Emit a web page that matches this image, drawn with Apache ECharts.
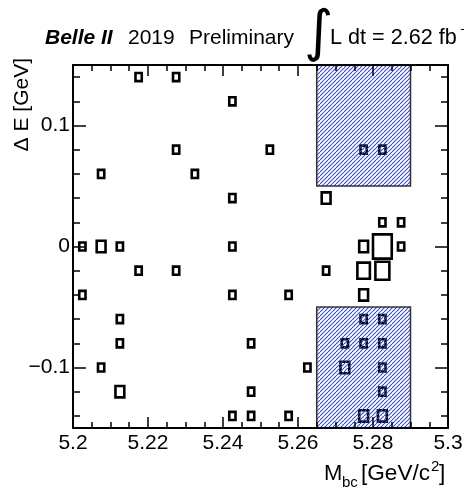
<!DOCTYPE html>
<html>
<head>
<meta charset="utf-8">
<script src="https://cdn.jsdelivr.net/npm/echarts@6/dist/echarts.min.js"></script>
<style>
html,body{margin:0;padding:0;background:#fff;}
#chart{width:464px;height:489px;}
</style>
</head>
<body>
<div id="chart"></div>
<script>
// ---- data ----
const mbcRange = [5.2, 5.3];
const deRange = [-0.15, 0.15];
const mbcBinWidth = 0.005;
const deBinWidth = 0.02;
// events per cell: [Mbc bin centre, ΔE bin centre, count]
const cellMbc = [5.2175,5.2275, 5.2425, 5.2275,5.2525,5.2775,5.2825, 5.2075,5.2325, 5.2425,5.2675, 5.2825,5.2875,
  5.2025,5.2075,5.2125,5.2425,5.2775,5.2825,5.2875, 5.2175,5.2275,5.2675,5.2775,5.2825,
  5.2025,5.2425,5.2575,5.2775, 5.2125,5.2775,5.2825, 5.2125,5.2475,5.2725,5.2775,5.2825,
  5.2075,5.2625,5.2725,5.2825, 5.2125,5.2475,5.2825, 5.2425,5.2475,5.2575,5.2775,5.2825];
const cellDE = [0.14,0.14, 0.12, 0.08,0.08,0.08,0.08, 0.06,0.06, 0.04,0.04, 0.02,0.02,
  0,0,0,0,0,0,0, -0.02,-0.02,-0.02,-0.02,-0.02,
  -0.04,-0.04,-0.04,-0.04, -0.06,-0.06,-0.06, -0.08,-0.08,-0.08,-0.08,-0.08,
  -0.10,-0.10,-0.10,-0.10, -0.12,-0.12,-0.12, -0.14,-0.14,-0.14,-0.14,-0.14];
const cellCount = [1,1, 1, 1,1,1,1, 1,1, 1,2, 1,1,
  1,2,1,1,2,9,1, 1,1,1,4,5,
  1,1,1,2, 1,1,1, 1,1,1,1,1,
  1,1,2,1, 2,1,1, 1,1,1,2,2];
// hatched regions
const hatchMbc = [5.265, 5.29];
const hatchDE = [[0.05, 0.15], [-0.15, -0.05]];
// ticks
const xMajorTicks = [5.2, 5.22, 5.24, 5.26, 5.28, 5.3];
const xMinorTicks = [5.205,5.21,5.215,5.225,5.23,5.235,5.245,5.25,5.255,5.265,5.27,5.275,5.285,5.29,5.295];
const yMajorTicks = [-0.1, 0, 0.1];
const yMinorTicks = [-0.14,-0.12,-0.08,-0.06,-0.04,-0.02,0.02,0.04,0.06,0.08,0.12,0.14];

const FONT = 'Liberation Sans';
const chart = echarts.init(document.getElementById('chart'), null, {renderer: 'canvas'});

const maxCount = Math.max.apply(null, cellCount);
const cells = cellMbc.map((x, i) => [x, cellDE[i], cellCount[i]]);
const hatchData = hatchDE.map(r => [hatchMbc[0], hatchMbc[1], r[0], r[1]]);

// hatch pattern
const pc = document.createElement('canvas');
pc.width = 8; pc.height = 8;
const g = pc.getContext('2d');
g.strokeStyle = '#2a48f2';
g.lineWidth = 1.05;
for (let c = -8; c <= 24; c += 4) {
  g.beginPath(); g.moveTo(c, 0); g.lineTo(c - 8, 8); g.stroke();
}

function fmtX(v){ return String(Math.round(v*100)/100); }
function fmtY(v){ const r = Math.round(v*100)/100; return r < 0 ? '\u2212' + Math.abs(r) : String(r); }

function xAx(pos, ticks, len, labels, line){
  return {type:'value', position:pos, min:mbcRange[0], max:mbcRange[1], z:10,
    axisLine:{show:line, onZero:false, lineStyle:{color:'#000', width:2}},
    axisTick:{show:true, inside:true, length:len, customValues:ticks, lineStyle:{color:'#000', width:1.5}},
    axisLabel:{show:labels, customValues:ticks, formatter:fmtX, color:'#000', fontSize:21, fontFamily:FONT, margin:5},
    splitLine:{show:false}, minorTick:{show:false}};
}
function yAx(pos, ticks, len, labels, line){
  return {type:'value', position:pos, min:deRange[0], max:deRange[1], z:10,
    axisLine:{show:line, onZero:false, lineStyle:{color:'#000', width:2}},
    axisTick:{show:true, inside:true, length:len, customValues:ticks, lineStyle:{color:'#000', width:1.5}},
    axisLabel:{show:labels, customValues:ticks, formatter:fmtY, color:'#000', fontSize:21, fontFamily:FONT, margin:3},
    splitLine:{show:false}, minorTick:{show:false}};
}
function txt(x, y, s, font, extra){
  return Object.assign({type:'text', x:x, y:y, style:{text:s, font:font, fill:'#000', verticalAlign:'middle'}}, extra || {});
}
const F21 = '21px "Liberation Sans"', F14 = '14px "Liberation Sans"';

const option = {
  animation:false,
  backgroundColor:'#fff',
  grid:{left:73, right:16, top:65, bottom:61, containLabel:false, outerBoundsMode:'none'},
  xAxis:[
    xAx('bottom', xMajorTicks, 11, true, true),
    xAx('bottom', xMinorTicks, 6, false, false),
    xAx('top', xMajorTicks, 11, false, true),
    xAx('top', xMinorTicks, 6, false, false)
  ],
  yAxis:[
    yAx('left', yMajorTicks, 13, true, true),
    yAx('left', yMinorTicks, 7, false, false),
    yAx('right', yMajorTicks, 13, false, true),
    yAx('right', yMinorTicks, 7, false, false)
  ],
  series:[
    {
      type:'custom', name:'events', xAxisIndex:0, yAxisIndex:0, z:2,
      data:cells, encode:{x:0, y:1},
      renderItem:function(params, api){
        const c = api.coord([api.value(0), api.value(1)]);
        const s = api.size([mbcBinWidth, deBinWidth]);
        const r = Math.sqrt(api.value(2)/maxCount);
        const w = s[0]*r, h = s[1]*r;
        return {type:'rect', shape:{x:c[0]-w/2, y:c[1]-h/2, width:w, height:h},
          style:{fill:'transparent', stroke:'#000', lineWidth:2.6, lineJoin:'miter'}};
      }
    },
    {
      type:'custom', name:'regions', xAxisIndex:0, yAxisIndex:0, z:3,
      data:hatchData,
      renderItem:function(params, api){
        const p0 = api.coord([api.value(0), api.value(3)]);
        const p1 = api.coord([api.value(1), api.value(2)]);
        return {type:'rect', shape:{x:p0[0], y:p0[1], width:p1[0]-p0[0], height:p1[1]-p0[1]},
          style:{fill:{image:pc, repeat:'repeat'}, stroke:'#333', lineWidth:1.5}};
      }
    }
  ],
  graphic:[
    txt(45, 38, 'Belle II', 'italic bold 21px "Liberation Sans"'),
    txt(128, 38, '2019', F21),
    txt(189, 38, 'Preliminary', F21),
    txt(304, 35, '\u222B', '56px "DejaVu Sans"'),
    txt(330, 38, 'L dt = 2.62 fb', '21.6px "Liberation Sans"'),
    txt(460, 30, '\u22121', F14),
    {type:'text', x:22, y:58, rotation:Math.PI/2, style:{text:'\u0394 E [GeV]', font:F21, fill:'#000', align:'right', verticalAlign:'middle'}},
    txt(324, 474, 'M', '22px "Liberation Sans"'),
    txt(342, 483, 'bc', '15px "Liberation Sans"'),
    txt(361, 474, '[GeV/c', '22.6px "Liberation Sans"'),
    txt(431, 467, '2', '15px "Liberation Sans"'),
    txt(439, 474, ']', '22.6px "Liberation Sans"')
  ]
};
chart.setOption(option);
</script>
</body>
</html>
